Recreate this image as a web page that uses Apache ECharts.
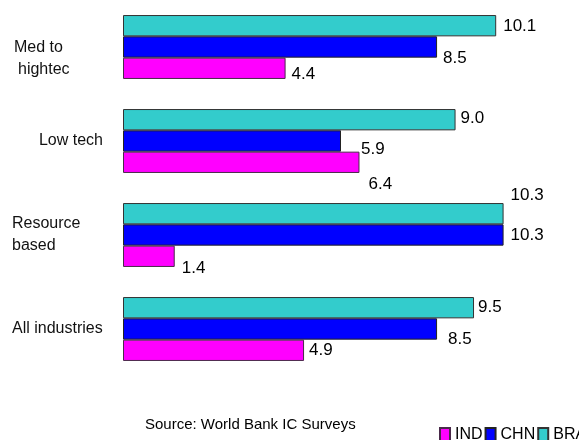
<!DOCTYPE html>
<html>
<head>
<meta charset="utf-8">
<script src="https://cdn.jsdelivr.net/npm/echarts@6/dist/echarts.min.js"></script>
<style>
  html, body { margin: 0; padding: 0; background: #fff; }
  #main { width: 579px; height: 440px; }
</style>
</head>
<body>
<div id="main"></div>
<script>
// categories, top to bottom
var categories = ['Med to hightec', 'Low tech', 'Resource based', 'All industries'];
var ind = [4.4, 6.4, 1.4, 4.9];
var chn = [8.5, 5.9, 10.3, 8.5];
var bra = [10.1, 9.0, 10.3, 9.5];

// label nudges [dx, dy] (layout only)
var nudgeInd = [[1, 6], [4, 22], [2, 12], [0, 0]];
var nudgeChn = [[1, 11], [15, 8], [2, 0], [6, 10]];
var nudgeBra = [[2, 1], [0, -1], [2, -18], [-1, 0]];

var FONT = '"Liberation Sans", Arial, sans-serif';

function withLabels(values, nudges) {
    return values.map(function (v, i) {
        return { value: v, label: { offset: nudges[i] } };
    });
}

// how each category label is broken / placed (rich text styles below)
var catRich = {
    'Med to hightec': '{sp| }\n{m1|Med to}\n{m2|hightec}',
    'Low tech': '{lo|Low tech}',
    'Resource based': '{c|Resource}\n{c|based}',
    'All industries': '{c|All industries}'
};

var myChart = echarts.init(document.getElementById('main'));

var barLabel = {
    show: true,
    position: 'right',
    distance: 5,
    fontFamily: FONT,
    fontSize: 17,
    color: '#000',
    formatter: function (p) { return p.value.toFixed(1); }
};

myChart.setOption({
    animation: false,
    legend: {
        data: ['IND', 'CHN', 'BRA'],
        left: 439,
        top: 427,
        width: 200,
        padding: 0,
        itemWidth: 10,
        itemHeight: 14,
        itemGap: 2,
        icon: 'rect',
        textStyle: { fontFamily: FONT, fontSize: 16, color: '#000' }
    },
    graphic: [{
        type: 'text',
        left: 145,
        top: 417,
        style: { text: 'Source: World Bank IC Surveys', font: '15px ' + FONT, fill: '#000' }
    }],
    grid: { left: 123, top: 0, width: 443.4, height: 376, outerBoundsMode: 'none' },
    xAxis: {
        type: 'value',
        min: 0,
        max: 12,
        show: false
    },
    yAxis: {
        type: 'category',
        inverse: true,
        data: categories,
        axisLine: { show: false },
        axisTick: { show: false },
        axisLabel: {
            margin: 13,
            fontFamily: FONT,
            fontSize: 16,
            lineHeight: 22,
            color: '#111',
            formatter: function (v) { return catRich[v]; },
            rich: {
                sp: { width: 98, fontSize: 16, lineHeight: 24 },
                m1: { width: 96, align: 'left', padding: [0, 0, 0, 2], fontSize: 16, lineHeight: 22 },
                m2: { width: 92, align: 'left', padding: [0, 0, 0, 6], fontSize: 16, lineHeight: 22 },
                lo: { width: 91, align: 'right', padding: [0, 7, 0, 0], fontSize: 16, lineHeight: 22 },
                c: { width: 98, align: 'left', fontSize: 16, lineHeight: 22 }
            }
        }
    },
    series: [
        {
            name: 'BRA', type: 'bar', barGap: '0%', barCategoryGap: '32%',
            data: withLabels(bra, nudgeBra),
            itemStyle: { color: '#33CCCC', borderColor: '#333', borderWidth: 1 },
            label: barLabel
        },
        {
            name: 'CHN', type: 'bar',
            data: withLabels(chn, nudgeChn),
            itemStyle: { color: '#0000FF', borderColor: '#222', borderWidth: 1 },
            label: barLabel
        },
        {
            name: 'IND', type: 'bar',
            data: withLabels(ind, nudgeInd),
            itemStyle: { color: '#FF00FF', borderColor: '#4a2a4a', borderWidth: 1 },
            label: barLabel
        }
    ]
});
</script>
</body>
</html>
